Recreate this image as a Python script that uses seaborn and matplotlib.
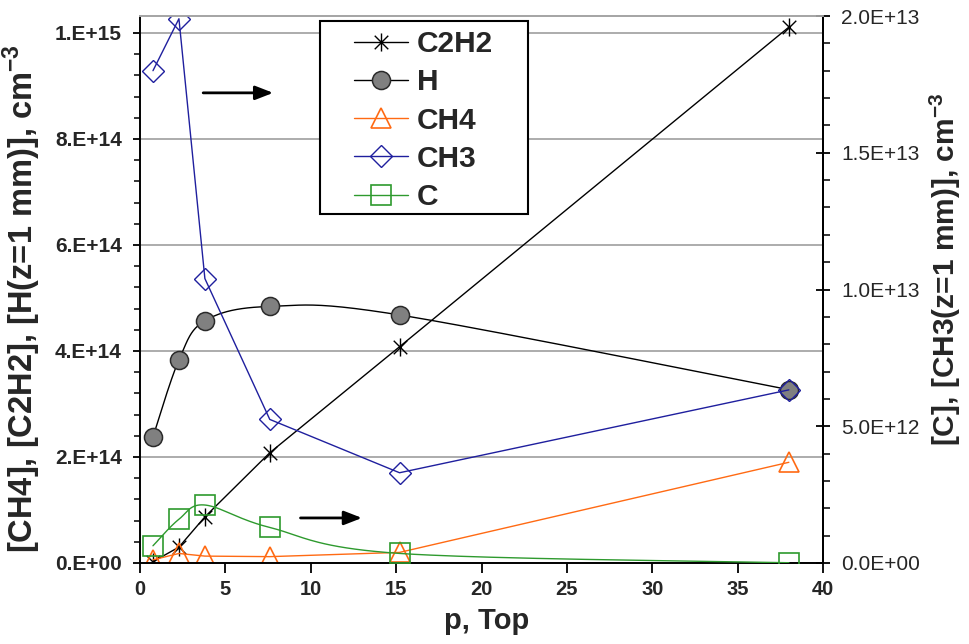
import numpy as np
import matplotlib
matplotlib.use("Agg")
import matplotlib.pyplot as plt
from matplotlib.lines import Line2D
from matplotlib.patches import Rectangle
from matplotlib.path import Path
from matplotlib.ticker import MultipleLocator, FuncFormatter
import seaborn as sns

# Pressure, Torr
p = [0.76, 2.28, 3.8, 7.6, 15.2, 38.0]
# Left axis species, cm^-3
c2h2 = [2.5e12, 3.0e13, 8.7e13, 2.08e14, 4.08e14, 1.011e15]
h = [2.38e14, 3.83e14, 4.57e14, 4.84e14, 4.68e14, 3.27e14]
ch4 = [6.0e12, 1.8e13, 1.3e13, 1.2e13, 2.0e13, 1.9e14]
# Right axis species, cm^-3
ch3 = [18.0e12, 19.9e12, 10.4e12, 5.25e12, 3.30e12, 6.33e12]
c = [0.63e12, 1.60e12, 2.12e12, 1.30e12, 0.35e12, 0.01e12]

labels = ["C2H2", "H", "CH4", "CH3", "C"]

sns.set_theme(style="ticks")
plt.rcParams["font.family"] = ["Liberation Sans", "DejaVu Sans"]
plt.rcParams["mathtext.fontset"] = "custom"
plt.rcParams["mathtext.rm"] = "Liberation Sans"
plt.rcParams["mathtext.bf"] = "Liberation Sans:bold"

XMAX = 40.0
YL_TOP = 1.032e15
YR_TOP = 2.0e13

BLACK = "#000000"
ORANGE = "#ff6a13"
NAVY = "#1f1f9e"
GREEN = "#2e9a2e"
GREY = "#808080"

fig = plt.figure(figsize=(9.69, 6.44), dpi=100)
ax = fig.add_axes([140 / 969, 1 - 563 / 644, 683 / 969, 547 / 644])
ax2 = ax.twinx()

AX_W, AX_H = 683.0, 547.0


def smooth(x, y, ytop, n=40):
    """Bezier smoothing (Catmull-Rom style) computed in screen proportions."""
    P = np.column_stack([np.asarray(x) / XMAX * AX_W,
                         np.asarray(y) / ytop * AX_H])
    P = np.vstack([P[0], P, P[-1]])
    t = np.linspace(0, 1, n)[:, None]
    segs = []
    for i in range(1, len(P) - 2):
        p0, p1, p2, p3 = P[i - 1], P[i], P[i + 1], P[i + 2]
        c1 = p1 + (p2 - p0) / 6
        c2 = p2 - (p3 - p1) / 6
        seg = ((1 - t) ** 3 * p1 + 3 * (1 - t) ** 2 * t * c1
               + 3 * (1 - t) * t ** 2 * c2 + t ** 3 * p2)
        segs.append(seg if i == 1 else seg[1:])
    S = np.vstack(segs)
    return S[:, 0] / AX_W * XMAX, S[:, 1] / AX_H * ytop


# asterisk marker: vertical bar plus a cross
star_path = Path(
    [(0, -1), (0, 1), (-0.75, -0.75), (0.75, 0.75), (-0.75, 0.75), (0.75, -0.75)],
    [Path.MOVETO, Path.LINETO, Path.MOVETO, Path.LINETO, Path.MOVETO, Path.LINETO],
)

LW = 1.0
styles = {
    "C2H2": dict(color=BLACK, marker=star_path, markersize=13, markerfacecolor="none",
                 markeredgecolor=BLACK, markeredgewidth=1.0),
    "H": dict(color=BLACK, marker="o", markersize=13, markerfacecolor=GREY,
              markeredgecolor="#2a2a2a", markeredgewidth=1.1),
    "CH4": dict(color=ORANGE, marker="^", markersize=15, markerfacecolor="none",
                markeredgecolor=ORANGE, markeredgewidth=1.2),
    "CH3": dict(color=NAVY, marker="D", markersize=11, markerfacecolor="none",
                markeredgecolor=NAVY, markeredgewidth=1.0),
    "C": dict(color=GREEN, marker="s", markersize=15, markerfacecolor="none",
              markeredgecolor=GREEN, markeredgewidth=1.2),
}

# left-axis series
sns.lineplot(x=p, y=c2h2, ax=ax, linewidth=LW, estimator=None, sort=False,
             **styles["C2H2"])
hx, hy = smooth(p, h, YL_TOP)
sns.lineplot(x=hx, y=hy, ax=ax, color=BLACK, linewidth=LW, estimator=None, sort=False)
sns.lineplot(x=p, y=h, ax=ax, linestyle="", estimator=None, sort=False,
             **styles["H"])
sns.lineplot(x=p, y=ch4, ax=ax, linewidth=LW, estimator=None, sort=False,
             **styles["CH4"])

# right-axis series
sns.lineplot(x=p, y=ch3, ax=ax2, linewidth=LW, estimator=None, sort=False,
             **styles["CH3"])
cx, cy = smooth(p, c, YR_TOP)
sns.lineplot(x=cx, y=cy, ax=ax2, color=GREEN, linewidth=LW, estimator=None, sort=False)
sns.lineplot(x=p, y=c, ax=ax2, linestyle="", estimator=None, sort=False,
             **styles["C"])

# axes limits and ticks
ax.set_xlim(0, XMAX)
ax.set_ylim(0, YL_TOP)
ax2.set_ylim(0, YR_TOP)
ax.xaxis.set_major_locator(MultipleLocator(5))
ax.yaxis.set_major_locator(MultipleLocator(2e14))
ax.yaxis.set_minor_locator(MultipleLocator(4e13))
ax2.yaxis.set_major_locator(MultipleLocator(5e12))
ax2.yaxis.set_minor_locator(MultipleLocator(1e12))


def left_fmt(v, pos):
    if v < 0:
        return ""
    if abs(v) < 1e6:
        return "0.E+00"
    e = int(np.floor(np.log10(v) + 1e-9))
    return f"{v / 10 ** e:.0f}.E+{e:02d}"


def right_fmt(v, pos):
    if v < 0:
        return ""
    if abs(v) < 1e6:
        return "0.0E+00"
    e = int(np.floor(np.log10(v) + 1e-9))
    return f"{v / 10 ** e:.1f}E+{e:02d}"


ax.yaxis.set_major_formatter(FuncFormatter(left_fmt))
ax2.yaxis.set_major_formatter(FuncFormatter(right_fmt))

ax.tick_params(axis="x", which="major", direction="out", length=7, width=1.3,
               color=BLACK, labelsize=14.5, pad=5)
ax.tick_params(axis="y", which="major", direction="out", length=5, width=1.3,
               color=BLACK, labelsize=15, pad=8)
ax.tick_params(axis="y", which="minor", direction="out", length=4, width=1.1,
               color=BLACK)
ax2.tick_params(axis="y", which="major", direction="inout", length=10, width=1.3,
                color=BLACK, labelsize=15, pad=8)
ax2.tick_params(axis="y", which="minor", direction="out", length=5, width=1.1,
                color=BLACK)
for lab in ax.get_xticklabels() + ax.get_yticklabels():
    lab.set_fontweight("bold")

# grid from the left axis
ax.set_axisbelow(True)
ax.grid(axis="y", which="major", color="#a6a6a6", linewidth=1.3)
ax.grid(axis="x", visible=False)

for a in (ax, ax2):
    for side in ("left", "bottom", "right"):
        a.spines[side].set_color(BLACK)
        a.spines[side].set_linewidth(1.4)
    a.spines["top"].set_color("#a6a6a6")
    a.spines["top"].set_linewidth(1.3)
ax2.spines["left"].set_visible(False)
ax2.spines["bottom"].set_visible(False)

# axis titles
ax.set_xlabel("p, Top", fontsize=21, fontweight="bold")
ax.xaxis.set_label_coords(0.508, -0.080)
ax.set_ylabel(r"[CH4], [C2H2], [H(z=1 mm)], cm$^{\mathbf{-3}}$", fontsize=23.5,
              fontweight="bold")
ax.yaxis.set_label_coords(-0.142, 0.484)
ax2.set_ylabel(r"[C], [CH3(z=1 mm)], cm$^{\mathbf{-3}}$", fontsize=21.5,
               fontweight="bold", rotation=90)
ax2.yaxis.set_label_coords(1.152, 0.537)

# arrows pointing to the right-hand axis
arrow_kw = dict(arrowstyle="-|>,head_length=0.9,head_width=0.35", color=BLACK,
                lw=2.0, shrinkA=0, shrinkB=0)
ax.annotate("", xy=(7.8, 8.87e14), xytext=(3.7, 8.87e14), arrowprops=arrow_kw)
ax.annotate("", xy=(13.0, 8.5e13), xytext=(9.4, 8.5e13), arrowprops=arrow_kw)

for a in (ax, ax2):
    if a.get_legend() is not None:
        a.get_legend().remove()

# legend in a framed box
fig.add_artist(Rectangle((320 / 969, 1 - 214 / 644), 208 / 969, 193 / 644,
                         transform=fig.transFigure, facecolor="white",
                         edgecolor=BLACK, linewidth=1.5, zorder=4))
handles = [Line2D([], [], linewidth=LW, **styles[k]) for k in labels]
leg = fig.legend(handles, labels, loc="upper left",
                 bbox_to_anchor=(354 / 969, 1 - 30 / 644),
                 bbox_transform=fig.transFigure, frameon=False,
                 prop=dict(family="Liberation Sans", weight="bold", size=21.5),
                 handlelength=1.8, handletextpad=0.3, labelspacing=0.345,
                 borderpad=0, borderaxespad=0)
leg.set_zorder(5)

fig.savefig("out.png", dpi=100)
